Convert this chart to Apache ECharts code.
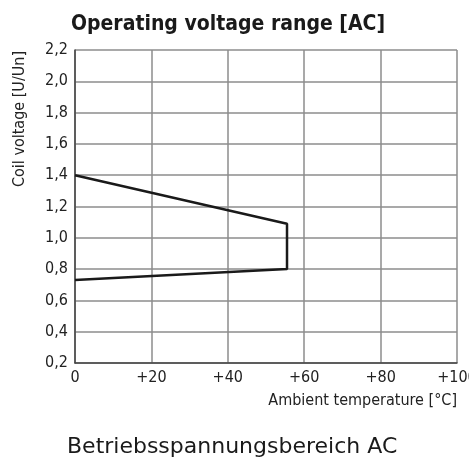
<!DOCTYPE html>
<html>
<head>
<meta charset="utf-8">
<script src="https://cdn.jsdelivr.net/npm/echarts@6/dist/echarts.min.js"></script>
<style>
  html, body { margin: 0; padding: 0; background: #fff; }
  #chart { width: 469px; height: 459px; }
</style>
</head>
<body>
<div id="chart"></div>
<script>
// boundary of the operating range, traced clockwise from the top-left
const tempValues = [0, 55.5, 55.5, 0];
const voltValues = [1.4, 1.09, 0.8, 0.73];

const narrow = '"Liberation Sans Narrow", "DejaVu Sans Condensed", sans-serif';

const chart = echarts.init(document.getElementById('chart'));

chart.setOption({
  animation: false,
  title: [{
    text: 'Operating voltage range [AC]',
    left: 223,
    textAlign: 'center',
    top: 9,
    textStyle: { fontFamily: narrow, fontWeight: 'bold', fontSize: 21, color: '#1a1a1a' }
  }, {
    text: 'Betriebsspannungsbereich AC',
    left: 62,
    top: 431,
    textStyle: { fontFamily: '"DejaVu Sans", sans-serif', fontWeight: 'normal', fontSize: 22, color: '#1a1a1a' }
  }],
  graphic: [{
    type: 'text',
    x: 20,
    y: 119,
    rotation: Math.PI / 2,
    style: {
      text: 'Coil voltage [U/Un]',
      fontFamily: narrow,
      fontSize: 16,
      fill: '#222',
      align: 'center',
      verticalAlign: 'middle'
    }
  }],
  grid: { left: 75, right: 12, top: 50, bottom: 96, containLabel: false, outerBoundsMode: 'none' },
  xAxis: {
    type: 'value',
    min: 0,
    max: 100,
    interval: 20,
    name: 'Ambient temperature [°C]',
    nameLocation: 'end',
    nameGap: 0,
    nameTextStyle: {
      fontFamily: narrow, fontSize: 16, color: '#222',
      align: 'right', verticalAlign: 'top', padding: [30, 0, 0, 0]
    },
    axisLine: { show: true, lineStyle: { color: '#444', width: 1.5 } },
    axisTick: { show: false },
    splitLine: { show: true, lineStyle: { color: '#8c8c8c', width: 1.5 } },
    axisLabel: {
      fontFamily: narrow, fontSize: 16, color: '#222', margin: 7,
      formatter: v => (v === 0 ? '0' : '+' + v)
    }
  },
  yAxis: {
    type: 'value',
    min: 0.2,
    max: 2.2,
    interval: 0.2,
    axisLine: { show: true, lineStyle: { color: '#444', width: 1.5 } },
    axisTick: { show: false },
    splitLine: { show: true, lineStyle: { color: '#8c8c8c', width: 1.5 } },
    axisLabel: {
      fontFamily: narrow, fontSize: 16, color: '#222', margin: 7,
      formatter: v => v.toFixed(1).replace('.', ',')
    }
  },
  series: [{
    type: 'line',
    data: tempValues.map((t, i) => [t, voltValues[i]]),
    symbol: 'none',
    lineStyle: { color: '#1a1a1a', width: 2.5 }
  }]
});
</script>
</body>
</html>
